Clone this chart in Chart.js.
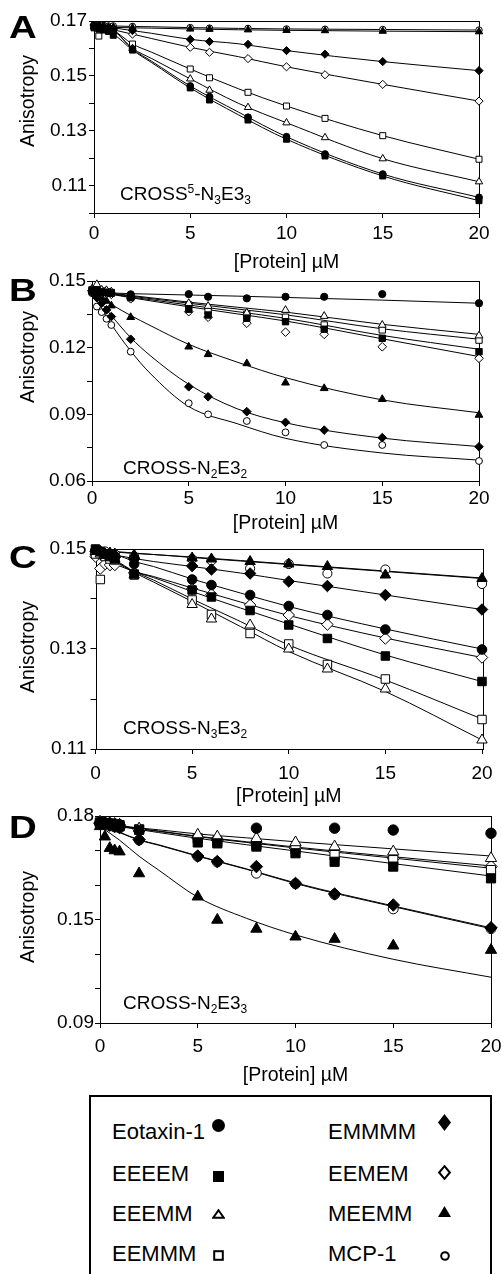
<!DOCTYPE html>
<html>
<head>
<meta charset="utf-8">
<script src="https://cdn.jsdelivr.net/npm/chart.js@4"></script>
<style>
  body { margin: 0; background: #fff; }
  #page { position: relative; width: 502px; height: 1274px; overflow: hidden; background: #fff;
          font-family: 'Liberation Sans', Arial, sans-serif; color: #000; }
  canvas { position: absolute; left: 0; }
  .letter { position: absolute; font-weight: bold; font-size: 32px; line-height: 1;
            transform: scaleX(1.2); transform-origin: left top; }
  .ylab { position: absolute; font-size: 19.5px; line-height: 1; white-space: nowrap;
          transform: translate(-50%, -50%) rotate(-90deg); }
  .tag { position: absolute; font-size: 19px; line-height: 1; white-space: nowrap; transform: translateY(-50%); }
  .tag sub { font-size: 12px; line-height: 0; vertical-align: -4px; }
  .tag sup { font-size: 12px; line-height: 0; vertical-align: 7px; }
  #legend { position: absolute; left: 89px; top: 1095px; width: 399px; height: 240px; border: 2px solid #000; }
  .item { position: absolute; font-size: 22px; line-height: 1; white-space: nowrap; transform: translateY(-50%); }
  .mk { position: absolute; }
</style>
</head>
<body>
<div id="page">
  <canvas id="chartA" width="502" height="274" style="top:0px"></canvas>
  <canvas id="chartB" width="502" height="276" style="top:259px"></canvas>
  <canvas id="chartC" width="502" height="281" style="top:527px"></canvas>
  <canvas id="chartD" width="502" height="293" style="top:794px"></canvas>

  <div class="letter" style="left:9px; top:11px">A</div>
  <div class="letter" style="left:9px; top:274px">B</div>
  <div class="letter" style="left:9px; top:541px">C</div>
  <div class="letter" style="left:9px; top:811px">D</div>

  <div class="ylab" style="left:28px; top:101px">Anisotropy</div>
  <div class="ylab" style="left:28px; top:357px">Anisotropy</div>
  <div class="ylab" style="left:28px; top:647px">Anisotropy</div>
  <div class="ylab" style="left:28px; top:917px">Anisotropy</div>

  <div class="tag" style="left:120px; top:193px">CROSS<sup>5</sup>-N<sub>3</sub>E3<sub>3</sub></div>
  <div class="tag" style="left:123px; top:467px">CROSS-N<sub>2</sub>E3<sub>2</sub></div>
  <div class="tag" style="left:123px; top:727px">CROSS-N<sub>3</sub>E3<sub>2</sub></div>
  <div class="tag" style="left:123px; top:1002px">CROSS-N<sub>2</sub>E3<sub>3</sub></div>

  <div id="legend"></div>
</div>

<script>
// series, in legend order (left column then right column)
const seriesNames = ['Eotaxin-1', 'EEEEM', 'EEEMM', 'EEMMM', 'EMMMM', 'EEMEM', 'MEEMM', 'MCP-1'];

// measured concentrations (uM) and the x positions where the fitted curves were read
const conc = [0, 0.25, 0.5, 0.75, 1, 2, 5, 6, 8, 10, 12, 15, 20];
const fitConc = [0, 1, 2, 3, 5, 7.5, 10, 15, 20];
const xTicks = [0, 5, 10, 15, 20];

// panel A: CROSS5-N3E33
const pointsA = [
  [0.1685, 0.168, 0.1676, 0.1672, 0.1667, 0.1598, 0.1463, 0.1424, 0.1349, 0.1278, 0.1215, 0.1142, 0.1057],
  [0.1675, 0.167, 0.1667, 0.1662, 0.1648, 0.1594, 0.1456, 0.1412, 0.1339, 0.1269, 0.1208, 0.1135, 0.1045],
  [0.168, 0.1678, 0.1675, 0.167, 0.1665, 0.16, 0.1489, 0.1448, 0.1385, 0.1329, 0.1275, 0.1198, 0.1114],
  [0.168, 0.1645, 0.167, 0.1668, 0.1665, 0.1616, 0.1525, 0.1493, 0.144, 0.139, 0.1345, 0.1282, 0.1196],
  [0.1685, 0.1682, 0.168, 0.1677, 0.1675, 0.1665, 0.1633, 0.1625, 0.1615, 0.1592, 0.1579, 0.1552, 0.1519],
  [0.1685, 0.168, 0.1677, 0.1673, 0.1668, 0.1652, 0.1604, 0.1586, 0.1563, 0.1533, 0.1504, 0.1469, 0.1408],
  [0.168, 0.1679, 0.1678, 0.1677, 0.1677, 0.1675, 0.1671, 0.167, 0.1668, 0.1666, 0.1665, 0.1663, 0.1661],
  [0.1685, 0.1685, 0.1684, 0.1682, 0.1682, 0.168, 0.1676, 0.1674, 0.1673, 0.1671, 0.167, 0.1669, 0.1667]
];
const fitsA = [
  [0.1685, 0.1667, 0.1598, 0.1553, 0.1463, 0.1368, 0.1278, 0.1142, 0.1057],
  [0.1675, 0.1652, 0.1594, 0.1548, 0.1456, 0.1358, 0.1269, 0.1135, 0.1045],
  [0.168, 0.1665, 0.16, 0.1563, 0.1489, 0.14, 0.1329, 0.1198, 0.1114],
  [0.168, 0.1665, 0.1616, 0.1586, 0.1525, 0.1453, 0.139, 0.1282, 0.1196],
  [0.1685, 0.1675, 0.1665, 0.1655, 0.1633, 0.1617, 0.1592, 0.1552, 0.1519],
  [0.1685, 0.1668, 0.1652, 0.1636, 0.1604, 0.157, 0.1533, 0.1469, 0.1408],
  [0.168, 0.1677, 0.1675, 0.1674, 0.1671, 0.1668, 0.1666, 0.1663, 0.1661],
  [0.1685, 0.1682, 0.168, 0.1679, 0.1676, 0.1673, 0.1671, 0.1669, 0.1667]
];
const yTicksA = [0.10, 0.11, 0.12, 0.13, 0.14, 0.15, 0.16, 0.17];
const yLabelsA = ['', '0.11', '', '0.13', '', '0.15', '', '0.17'];

// panel B: CROSS-N2E32
const pointsB = [
  [0.145, 0.1455, 0.145, 0.1448, 0.1447, 0.144, 0.1441, 0.1429, 0.1422, 0.1429, 0.1429, 0.1441, 0.14],
  [0.146, 0.1455, 0.145, 0.1448, 0.1445, 0.1425, 0.1373, 0.1347, 0.1332, 0.1317, 0.1283, 0.1242, 0.1182],
  [0.1465, 0.1485, 0.146, 0.1458, 0.1452, 0.1435, 0.14, 0.1387, 0.1357, 0.1369, 0.1342, 0.1302, 0.1254],
  [0.1455, 0.146, 0.1455, 0.1452, 0.1448, 0.143, 0.1392, 0.1366, 0.135, 0.1337, 0.1302, 0.128, 0.1234],
  [0.1455, 0.1425, 0.14, 0.137, 0.134, 0.1238, 0.1024, 0.0979, 0.0912, 0.0864, 0.0829, 0.0795, 0.0754],
  [0.1455, 0.145, 0.1448, 0.1445, 0.144, 0.142, 0.1362, 0.1337, 0.131, 0.127, 0.126, 0.1204, 0.1152],
  [0.146, 0.1445, 0.1425, 0.141, 0.1389, 0.1337, 0.1204, 0.117, 0.1129, 0.1042, 0.1017, 0.0968, 0.0897],
  [0.1445, 0.1385, 0.136, 0.133, 0.1302, 0.1182, 0.095, 0.09, 0.087, 0.0819, 0.0762, 0.0762, 0.069]
];
const fitsB = [
  [0.1448, 0.1446, 0.1443, 0.1441, 0.1437, 0.1432, 0.1426, 0.1414, 0.14],
  [0.1455, 0.1441, 0.1428, 0.1416, 0.1392, 0.1362, 0.1332, 0.1255, 0.1193],
  [0.1455, 0.1445, 0.1435, 0.1425, 0.1405, 0.1382, 0.136, 0.1305, 0.126],
  [0.1455, 0.1443, 0.1432, 0.1421, 0.14, 0.1374, 0.1348, 0.1285, 0.1238],
  [0.1455, 0.1345, 0.1245, 0.1165, 0.1035, 0.0925, 0.0862, 0.0793, 0.0755],
  [0.1455, 0.144, 0.1425, 0.1411, 0.1384, 0.1352, 0.132, 0.124, 0.116],
  [0.1455, 0.1395, 0.1345, 0.13, 0.1215, 0.1135, 0.1065, 0.0965, 0.0907],
  [0.145, 0.1305, 0.1185, 0.1085, 0.0935, 0.0858, 0.0792, 0.0726, 0.0694]
];
const yTicksB = [0.06, 0.075, 0.09, 0.105, 0.12, 0.135, 0.15];
const yLabelsB = ['0.06', '', '0.09', '', '0.12', '', '0.15'];

// panel C: CROSS-N3E32
const pointsC = [
  [0.1498, 0.1495, 0.149, 0.1488, 0.1485, 0.147, 0.1439, 0.1428, 0.1408, 0.1386, 0.1368, 0.1339, 0.1299],
  [0.15, 0.1495, 0.149, 0.1485, 0.148, 0.145, 0.1418, 0.1404, 0.1377, 0.1348, 0.1321, 0.1286, 0.1235],
  [0.1495, 0.149, 0.1488, 0.1485, 0.148, 0.1448, 0.1389, 0.136, 0.1348, 0.13, 0.126, 0.122, 0.1118],
  [0.149, 0.1439, 0.1485, 0.148, 0.1478, 0.1448, 0.1398, 0.1369, 0.1331, 0.131, 0.1269, 0.124, 0.1159],
  [0.1495, 0.149, 0.1488, 0.1485, 0.1483, 0.148, 0.1466, 0.1459, 0.1451, 0.1435, 0.1426, 0.1408, 0.1379],
  [0.1485, 0.1461, 0.147, 0.1468, 0.1468, 0.1452, 0.142, 0.1409, 0.1388, 0.1368, 0.1349, 0.1321, 0.1283],
  [0.1495, 0.1495, 0.149, 0.1492, 0.149, 0.1488, 0.1482, 0.148, 0.1475, 0.147, 0.1465, 0.1448, 0.1441],
  [0.1495, 0.1491, 0.1495, 0.149, 0.149, 0.1485, 0.148, 0.1477, 0.1461, 0.147, 0.1451, 0.1459, 0.143]
];
const fitsC = [
  [0.15, 0.149, 0.1475, 0.1465, 0.144, 0.1412, 0.1385, 0.134, 0.13],
  [0.1495, 0.1475, 0.1455, 0.1443, 0.1415, 0.1382, 0.135, 0.1288, 0.1235],
  [0.1495, 0.1476, 0.1453, 0.1434, 0.1395, 0.1345, 0.1295, 0.1215, 0.1118],
  [0.1495, 0.1478, 0.1455, 0.1438, 0.14, 0.1355, 0.1308, 0.1238, 0.116],
  [0.1495, 0.1488, 0.1481, 0.1475, 0.1465, 0.1452, 0.1437, 0.1408, 0.1379],
  [0.1485, 0.147, 0.1455, 0.1445, 0.1422, 0.1394, 0.1367, 0.1322, 0.1283],
  [0.1498, 0.1495, 0.1492, 0.1489, 0.1484, 0.1477, 0.147, 0.1456, 0.1442],
  [0.1497, 0.1494, 0.1491, 0.1489, 0.1483, 0.1476, 0.1469, 0.1455, 0.1441]
];
const yTicksC = [0.11, 0.12, 0.13, 0.14, 0.15];
const yLabelsC = ['0.11', '', '0.13', '', '0.15'];

// panel D: CROSS-N2E33
const pointsD = [
  [0.1772, 0.177, 0.1768, 0.1765, 0.1762, null, null, null, 0.1747, null, 0.1747, 0.1739, 0.1725],
  [0.1772, 0.177, 0.1766, 0.176, 0.1755, 0.174, 0.1685, 0.1681, 0.1667, 0.1638, 0.1601, 0.158, 0.1529],
  [0.1775, 0.177, 0.1768, 0.1765, 0.1762, 0.1745, 0.1718, 0.171, 0.1703, 0.1685, 0.1667, 0.1645, 0.1616],
  [0.177, 0.1768, 0.1765, 0.1762, 0.176, 0.1742, 0.1703, 0.169, 0.1676, 0.1655, 0.163, 0.1608, 0.1565],
  [0.1768, 0.1765, 0.176, 0.1755, 0.175, 0.1697, 0.1626, 0.1602, 0.158, 0.1507, 0.1461, 0.1413, 0.1314],
  [0.177, 0.1768, 0.1765, 0.1762, 0.176, 0.174, 0.1705, 0.1695, 0.1681, 0.166, 0.1645, 0.1616, 0.158],
  [0.1755, 0.171, 0.166, 0.165, 0.1645, 0.155, 0.1449, 0.1348, 0.1309, 0.1275, 0.1265, 0.1236, 0.1217],
  [0.1765, 0.1762, 0.1758, 0.1752, 0.1748, 0.1695, 0.1624, 0.16, 0.1551, 0.1505, 0.1459, 0.1396, 0.131]
];
const fitsD = [
  null,
  [0.1768, 0.1754, 0.1741, 0.1728, 0.1703, 0.1675, 0.1648, 0.1593, 0.1539],
  [0.1768, 0.1758, 0.1748, 0.174, 0.1722, 0.1705, 0.1688, 0.1657, 0.1626],
  [0.1768, 0.1756, 0.1744, 0.1733, 0.171, 0.1685, 0.1661, 0.1617, 0.1573],
  [0.1768, 0.173, 0.1697, 0.1675, 0.1627, 0.157, 0.1509, 0.1409, 0.1314],
  [0.1768, 0.1756, 0.1745, 0.1735, 0.1712, 0.1688, 0.1665, 0.1623, 0.1583],
  [0.1755, 0.1695, 0.1625, 0.1565, 0.1447, 0.1355, 0.1283, 0.1177, 0.1099],
  [0.1765, 0.1728, 0.1695, 0.1673, 0.1625, 0.1568, 0.1506, 0.1406, 0.131]
];
const yTicksD = [0.09, 0.105, 0.12, 0.135, 0.15, 0.165, 0.18];
const yLabelsD = ['0.09', '', '', '0.15', '', '', '0.18'];

// marker look per series (k scales the point radius so the shapes look the same size)
const markers = [
  { style: 'circle',   filled: true,  k: 1.0,  lw: 13, lh: 13 },
  { style: 'rect',     filled: true,  k: 1.25, lw: 11, lh: 11 },
  { style: 'triangle', filled: false, k: 1.25, lw: 13, lh: 10 },
  { style: 'rect',     filled: false, k: 1.25, lw: 11, lh: 11 },
  { style: 'rectRot',  filled: true,  k: 1.2,  lw: 13, lh: 17 },
  { style: 'rectRot',  filled: false, k: 1.2,  lw: 13, lh: 15 },
  { style: 'triangle', filled: true,  k: 1.25, lw: 13, lh: 11 },
  { style: 'circle',   filled: false, k: 0.95, lw: 10, lh: 10 }
];

Chart.defaults.font.family = "'Liberation Sans', Arial, sans-serif";
Chart.defaults.color = '#000';

const framePlugin = {
  id: 'frame',
  beforeDatasetsDraw(chart) {
    const { ctx, chartArea: a } = chart;
    ctx.save();
    ctx.strokeStyle = '#000';
    ctx.lineWidth = 1;
    ctx.strokeRect(Math.round(a.left) + 0.5, Math.round(a.top) + 0.5,
                   Math.round(a.right - a.left), Math.round(a.bottom - a.top));
    ctx.restore();
  }
};

function drawPanel(id, box, points, fits, yTicks, yLabels) {
  const datasets = [];
  seriesNames.forEach((name, i) => {
    const m = markers[i];
    datasets.push({
      label: name,
      data: conc.map((x, j) => ({ x: x, y: points[i][j] })).filter(p => p.y !== null),
      showLine: false,
      pointStyle: m.style,
      pointRadius: box.r * m.k,
      pointBackgroundColor: m.filled ? '#000' : '#fff',
      pointBorderColor: '#000',
      pointBorderWidth: 1,
      order: i,
      clip: false
    });
    if (fits[i]) {
      datasets.push({
        label: name + ' fit',
        data: fitConc.map((x, j) => ({ x: x, y: fits[i][j] })),
        showLine: true,
        pointRadius: 0,
        borderColor: '#000',
        borderWidth: 1,
        cubicInterpolationMode: 'monotone',
        order: 20,
        clip: false
      });
    }
  });

  const tickGrid = { display: true, drawOnChartArea: false, drawTicks: true, tickLength: 5, color: '#000', lineWidth: 1 };

  new Chart(document.getElementById(id), {
    type: 'scatter',
    data: { datasets: datasets },
    options: {
      responsive: false,
      animation: false,
      events: [],
      layout: { padding: { left: 0, top: box.padTop, right: box.padRight, bottom: 0 } },
      plugins: { legend: { display: false }, tooltip: { enabled: false } },
      scales: {
        x: {
          type: 'linear',
          min: 0,
          max: 20,
          afterBuildTicks: s => { s.ticks = xTicks.map(v => ({ value: v })); },
          afterFit: s => { s.height = box.xh; s.paddingLeft = 0; s.paddingRight = 0; },
          grid: tickGrid,
          border: { display: false },
          ticks: { font: { size: 19, lineHeight: 1.2 }, padding: box.xpad, maxRotation: 0, autoSkip: false,
                   callback: v => String(v) },
          title: { display: true, text: '[Protein] µM', font: { size: 19.5, lineHeight: 1.2 }, padding: 0 }
        },
        y: {
          type: 'linear',
          min: yTicks[0],
          max: yTicks[yTicks.length - 1],
          afterBuildTicks: s => { s.ticks = yTicks.map(v => ({ value: v })); },
          afterFit: s => { s.width = box.left; s.paddingTop = 0; s.paddingBottom = 0; },
          grid: tickGrid,
          border: { display: false },
          ticks: { font: { size: 19, lineHeight: 1.2 }, padding: box.ypad, autoSkip: false,
                   callback: (v, i) => yLabels[i] }
        }
      }
    },
    plugins: [framePlugin]
  });
}

drawPanel('chartA', { left: 94,   padTop: 21, padRight: 23, xh: 61, xpad: 4, ypad: 2, r: 3.4 }, pointsA, fitsA, yTicksA, yLabelsA);
drawPanel('chartB', { left: 92,   padTop: 22, padRight: 23, xh: 54, xpad: 1, ypad: 1, r: 3.6 }, pointsB, fitsB, yTicksB, yLabelsB);
drawPanel('chartC', { left: 95.5, padTop: 22, padRight: 20, xh: 59, xpad: 8, ypad: 4, r: 4.8 }, pointsC, fitsC, yTicksC, yLabelsC);
drawPanel('chartD', { left: 100,  padTop: 22, padRight: 11, xh: 64, xpad: 7, ypad: 1, r: 5.2 }, pointsD, fitsD, yTicksD, yLabelsD);

// legend box: text then marker, two columns
function markerSvg(m) {
  const w = m.lw, h = m.lh, sw = m.filled ? 0 : 2;
  const fill = m.filled ? '#000' : '#fff';
  const s = sw / 2 + (m.filled ? 0 : 0.2);
  let shape = '';
  if (m.style === 'circle') {
    shape = `<circle cx="${w / 2}" cy="${h / 2}" r="${w / 2 - s}"/>`;
  } else if (m.style === 'rect') {
    shape = `<rect x="${s}" y="${s}" width="${w - 2 * s}" height="${h - 2 * s}"/>`;
  } else if (m.style === 'triangle') {
    shape = `<polygon points="${w / 2},${s} ${w - s},${h - s} ${s},${h - s}"/>`;
  } else {
    shape = `<polygon points="${w / 2},${s} ${w - s},${h / 2} ${w / 2},${h - s} ${s},${h / 2}"/>`;
  }
  return `<svg width="${w}" height="${h}" fill="${fill}" stroke="#000" stroke-width="${sw}" stroke-linejoin="miter">${shape}</svg>`;
}

const legendTextX = [112, 328];
const legendMarkX = [218, 444.5];
const legendTextY = [1132, 1173.5, 1213.5, 1253.5];
const legendMarkY = [[1124, 1173, 1210, 1252], [1122, 1172, 1208, 1252]];

const page = document.getElementById('page');
seriesNames.forEach((name, i) => {
  const col = i < 4 ? 0 : 1;
  const row = i % 4;
  const m = markers[i];
  const t = document.createElement('div');
  t.className = 'item';
  t.style.left = legendTextX[col] + 'px';
  t.style.top = legendTextY[row] + 'px';
  t.textContent = name;
  page.appendChild(t);
  const mk = document.createElement('div');
  mk.className = 'mk';
  mk.style.left = (legendMarkX[col] - m.lw / 2) + 'px';
  mk.style.top = (legendMarkY[col][row] - m.lh / 2) + 'px';
  mk.style.width = m.lw + 'px';
  mk.style.height = m.lh + 'px';
  mk.innerHTML = markerSvg(m);
  page.appendChild(mk);
});
</script>
</body>
</html>
